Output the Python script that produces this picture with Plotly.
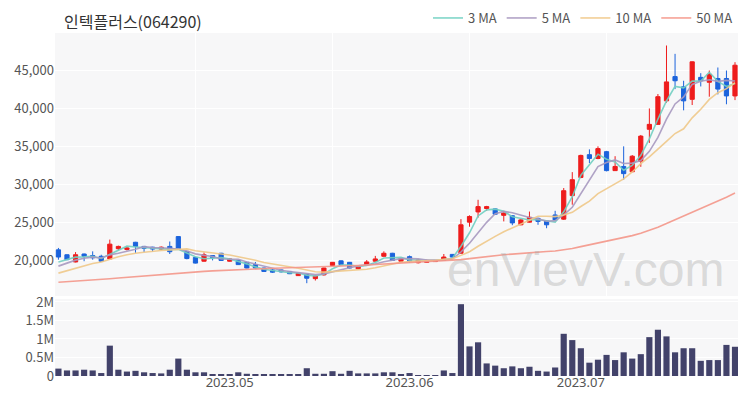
import plotly.graph_objects as go
import pandas as pd

# ---------------- data ----------------
dates = [
    "2023-04-03", "2023-04-04", "2023-04-05", "2023-04-06", "2023-04-07",
    "2023-04-10", "2023-04-11", "2023-04-12", "2023-04-13", "2023-04-14",
    "2023-04-17", "2023-04-18", "2023-04-19", "2023-04-20", "2023-04-21",
    "2023-04-24", "2023-04-25", "2023-04-26", "2023-04-27", "2023-04-28",
    "2023-05-02", "2023-05-03", "2023-05-04", "2023-05-08", "2023-05-09",
    "2023-05-10", "2023-05-11", "2023-05-12", "2023-05-15", "2023-05-16",
    "2023-05-17", "2023-05-18", "2023-05-19", "2023-05-22", "2023-05-23",
    "2023-05-24", "2023-05-25", "2023-05-26", "2023-05-30", "2023-05-31",
    "2023-06-01", "2023-06-02", "2023-06-05", "2023-06-07", "2023-06-08",
    "2023-06-09", "2023-06-12", "2023-06-13", "2023-06-14", "2023-06-15",
    "2023-06-16", "2023-06-19", "2023-06-20", "2023-06-21", "2023-06-22",
    "2023-06-23", "2023-06-26", "2023-06-27", "2023-06-28", "2023-06-29",
    "2023-06-30", "2023-07-03", "2023-07-04", "2023-07-05", "2023-07-06",
    "2023-07-07", "2023-07-10", "2023-07-11", "2023-07-12", "2023-07-13",
    "2023-07-14", "2023-07-17", "2023-07-18", "2023-07-19", "2023-07-20",
    "2023-07-21", "2023-07-24", "2023-07-25", "2023-07-26", "2023-07-27",
]

opens = [21350, 20700, 19750, 20800, 20600, 20500, 20150, 21500, 21400, 22350,
         21800, 21700, 21450, 21800, 23100, 21150, 20350, 19850, 20600, 20900,
         19850, 19950, 19700, 19400, 18950, 18700, 18700, 18500, 17950, 18150,
         17550, 18050, 19300, 19900, 19700, 18850, 19400, 19850, 20500, 20900,
         19850, 20450, 19650, 19700, 19800, 19950, 20750, 20900, 25000, 26350,
         26800, 26750, 25900, 25850, 24650, 25000, 25500, 25150, 25950, 25400,
         28500, 30900, 33900, 33400, 34300, 31800, 32350, 31650, 33050, 37250,
         37900, 41000, 44200, 42850, 41200, 44100, 43450, 43950, 43950, 41650]

highs = [21600, 20750, 21050, 20850, 21150, 20700, 22700, 21900, 21800, 22400,
         21850, 21750, 21800, 22450, 23150, 21200, 20400, 21000, 20650, 20950,
         20250, 20000, 19750, 19750, 19000, 18800, 18750, 18550, 18300, 18200,
         18050, 19000, 19750, 19950, 19750, 19250, 20000, 20550, 21150, 20950,
         20300, 20600, 20100, 20050, 19950, 20800, 20800, 25400, 25900, 27950,
         27150, 26850, 26300, 25900, 25400, 26400, 25600, 25200, 26500, 29500,
         31600, 33900, 34600, 35000, 34400, 33700, 35000, 33850, 36500, 40000,
         41900, 48300, 47200, 43650, 46200, 44650, 45000, 45400, 45000, 46100]

lows = [20050, 20000, 19700, 19850, 20050, 19800, 20100, 21300, 21250, 20950,
        21050, 21100, 21300, 20800, 21450, 20100, 19550, 19800, 19950, 19900,
        19800, 19350, 18900, 18900, 18450, 18300, 18350, 18150, 17900, 16950,
        17300, 17950, 19250, 19350, 18900, 18800, 19350, 19800, 20450, 19900,
        19800, 19650, 19550, 19650, 19750, 19900, 20300, 20850, 24400, 25600,
        26500, 26000, 25100, 24600, 24600, 24950, 24650, 24200, 25250, 25300,
        27300, 30800, 32800, 33300, 31700, 31750, 30600, 31600, 32300, 35450,
        37850, 40750, 42550, 39750, 40450, 42900, 41550, 41850, 40550, 41100]

closes = [20400, 20050, 20700, 20500, 20300, 19850, 22100, 21800, 21600, 21800,
          21550, 21450, 21700, 21100, 21500, 20200, 19600, 20700, 20300, 19950,
          20150, 19400, 18950, 18950, 18500, 18400, 18450, 18200, 18250, 17600,
          17900, 18950, 19700, 19400, 18950, 19150, 19750, 20150, 20900, 19950,
          20200, 19850, 20000, 19950, 19900, 20400, 20400, 24650, 25750, 27050,
          27050, 26050, 26200, 24900, 25300, 25650, 25100, 24650, 25300, 29150,
          30600, 33800, 33400, 34700, 31800, 32350, 31400, 33700, 36350, 37900,
          41550, 43500, 43650, 41000, 46150, 43650, 44500, 42550, 41650, 45700]

volumes = [200000, 150000, 150000, 170000, 150000, 80000, 820000, 170000, 120000, 140000,
           100000, 80000, 70000, 170000, 470000, 170000, 100000, 100000, 30000, 30000,
           30000, 100000, 60000, 50000, 40000, 40000, 40000, 30000, 30000, 210000,
           60000, 60000, 130000, 60000, 140000, 70000, 70000, 70000, 100000, 100000,
           50000, 80000, 20000, 20000, 20000, 150000, 80000, 1940000, 800000, 910000,
           340000, 280000, 210000, 260000, 210000, 250000, 140000, 120000, 230000, 1140000,
           970000, 750000, 360000, 440000, 570000, 430000, 640000, 470000, 590000, 1050000,
           1250000, 1070000, 640000, 750000, 750000, 410000, 430000, 430000, 840000, 790000]

# closes of the 49 sessions before the first visible day (only used to warm up the MAs,
# estimated from where the MA lines start in the picture)
hist_closes = [16900, 16800, 16700, 16650, 16600, 16700, 16850, 16900, 16800, 16750,
               16700, 16600, 16550, 16650, 16800, 16900, 17000, 16950, 16850, 16750,
               16700, 16650, 16600, 16700, 16800, 16850, 16900, 16800, 16700, 16650,
               16600, 16700, 16750, 16800, 16900, 16850, 16800, 16750, 16850, 16950,
               16900, 17100, 17300, 17600, 17900, 18200, 18600, 19200, 19600]

ma_windows = [3, 5, 10, 50]
ma_names = ["3 MA", "5 MA", "10 MA", "50 MA"]
ma_colors = ["#72d0c2", "#a899c0", "#f0c98a", "#f4978a"]

tick_idx = [20, 41, 61]
tick_text = ["2023.05", "2023.06", "2023.07"]
grid_idx = [16, 32, 48, 64]

price_ticks = [20000, 25000, 30000, 35000, 40000, 45000]
price_tick_text = ["20,000", "25,000", "30,000", "35,000", "40,000", "45,000"]
vol_ticks = [0, 500000, 1000000, 1500000, 2000000]
vol_tick_text = ["0", "0.5M", "1M", "1.5M", "2M"]

title_text = "인텍플러스(064290)"
watermark = "enVievV.com"

# ---------------- figure ----------------
UP = "#ee1c1c"
DOWN = "#1b63dc"
VOL = "#42426a"
FONT = "Noto Sans CJK KR, Noto Sans, sans-serif"

pos = list(range(len(dates)))
n_hist = len(hist_closes)
all_close = pd.Series(hist_closes + closes)

fig = go.Figure()

fig.add_trace(go.Candlestick(
    x=pos, open=opens, high=highs, low=lows, close=closes,
    increasing=dict(line=dict(color=UP, width=1), fillcolor=UP),
    decreasing=dict(line=dict(color=DOWN, width=1), fillcolor=DOWN),
    whiskerwidth=0, showlegend=False, xaxis="x", yaxis="y",
    text=dates, hoverinfo="text+y",
))

for w, name, col in zip(ma_windows, ma_names, ma_colors):
    ma = all_close.rolling(w).mean().iloc[n_hist:].tolist()
    fig.add_trace(go.Scatter(
        x=pos, y=ma, mode="lines", name=name,
        line=dict(color=col, width=1.6), opacity=0.9,
        xaxis="x", yaxis="y",
    ))

fig.add_trace(go.Bar(
    x=pos, y=volumes, marker=dict(color=VOL, line=dict(width=0)),
    width=0.72, showlegend=False, xaxis="x2", yaxis="y2",
))

# the page body adds an 8px offset at top-left, so the figure is sized to fit inside it
xr = [-0.4, 79.35]
fig.update_layout(
    width=734, height=384,
    margin=dict(l=47, r=4, t=25, b=16, autoexpand=False),
    paper_bgcolor="white",
    plot_bgcolor="#f7f7f8",
    font=dict(family=FONT, size=13, color="#555555"),
    showlegend=True,
    legend=dict(orientation="h", x=1.0, xanchor="right", y=1.0, yanchor="bottom",
                font=dict(size=13, color="#555555"), bgcolor="rgba(0,0,0,0)",
                itemwidth=30, tracegroupgap=0),
    xaxis=dict(domain=[0, 1], range=xr, showticklabels=False, showgrid=False,
               zeroline=False, rangeslider=dict(visible=False), anchor="y",
               automargin=False,
               minor=dict(tickmode="array", tickvals=grid_idx, showgrid=True,
                          gridcolor="white", gridwidth=1, ticks="")),
    xaxis2=dict(domain=[0, 1], range=xr, matches="x", anchor="y2",
                tickmode="array", tickvals=tick_idx, ticktext=tick_text,
                showgrid=False, zeroline=False, ticks="", automargin=False,
                ticklabelstandoff=-3,
                tickfont=dict(family="Noto Sans, sans-serif", size=13, color="#555555")),
    yaxis=dict(domain=[0.233, 1], range=[15250, 49950], anchor="x",
               tickmode="array", tickvals=price_ticks, ticktext=price_tick_text,
               gridcolor="white", gridwidth=1, zeroline=False, ticks="",
               automargin=False, tickfont=dict(size=13, color="#555555")),
    yaxis2=dict(domain=[0, 0.2245], range=[0, 2080000], anchor="x2",
                tickmode="array", tickvals=vol_ticks, ticktext=vol_tick_text,
                gridcolor="white", gridwidth=1, zeroline=False, ticks="",
                automargin=False, tickfont=dict(size=13, color="#555555")),
    bargap=0.28,
)

fig.add_annotation(
    text=title_text, xref="paper", yref="paper", x=0.0117, y=1.036,
    xanchor="left", yanchor="middle", showarrow=False, borderpad=0,
    font=dict(family=FONT, size=16, color="#333333"),
)

fig.add_annotation(
    text=watermark, xref="paper", yref="paper", x=0.778, y=0.31,
    xanchor="center", yanchor="middle", showarrow=False,
    font=dict(family="Liberation Sans, Arial, sans-serif", size=48,
              color="rgba(170,170,170,0.4)"),
)

fig.write_html("out.html")
